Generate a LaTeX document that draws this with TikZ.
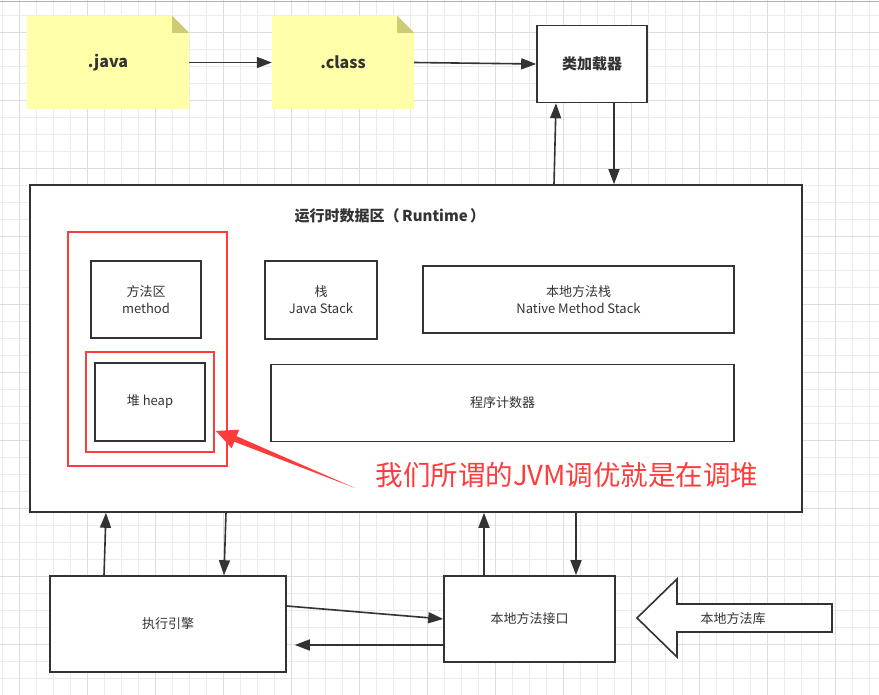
\documentclass[tikz,border=0pt]{standalone}
\usepackage{fontspec}
\setmainfont{Noto Sans CJK SC}
\usetikzlibrary{arrows.meta,calc,backgrounds}
\definecolor{ink}{HTML}{333333}
\definecolor{notefill}{HTML}{FFFFAA}
\definecolor{notefold}{HTML}{CCCC77}
\definecolor{alertred}{HTML}{FF3B3B}
\definecolor{gridminor}{HTML}{EBEBEB}
\definecolor{gridmajor}{HTML}{DDDDDD}

\begin{document}
\begin{tikzpicture}[x=1pt, y=-1pt,
      every node/.append style={text=ink, font=\fontsize{13}{17}\selectfont, inner sep=0pt},
      box/.style={draw=ink, line width=1.6pt, fill=white, align=center},
      zone/.style={draw=alertred, line width=1.8pt},
      arr/.style={draw=ink, line width=1.6pt, -{Triangle[length=15pt,width=11pt]}}]
    \tikzstyle{note} = [font=\bfseries\fontsize{16}{19}\selectfont]
    \tikzstyle{heading} = [font=\bfseries\fontsize{15}{18}\selectfont]
    \useasboundingbox (0,0) rectangle (879,695);
    \begin{scope}[on background layer]
      \fill[white] (0,0) rectangle (879,695);
      \foreach \k in {0,...,51} \draw[gridminor, line width=0.8pt] (2+17*\k,0) -- (2+17*\k,695);
      \foreach \k in {0,...,41} \draw[gridminor, line width=0.8pt] (0,-2+17*\k) -- (879,-2+17*\k);
      \foreach \k in {0,...,12} \draw[gridmajor, line width=0.8pt] (19+68*\k,0) -- (19+68*\k,695);
      \foreach \k in {0,...,9} \draw[gridmajor, line width=0.8pt] (0,32+68*\k) -- (879,32+68*\k);
    \end{scope}
    \draw[gray!60, line width=1pt] (0,1.5) -- (879,1.5);

    \node[note, minimum width=162pt, minimum height=93pt] (java) at (108,62.5) {.java};
    \node[note, minimum width=142pt, minimum height=93pt] (class) at (343,62.5) {.class};
    \begin{scope}[on background layer]
      \foreach \n in {java,class} {
        \fill[notefill] (\n.south west) |- ([xshift=-17pt]\n.north east) -- ([yshift=-17pt]\n.north east) -- (\n.south east) -- cycle;
        \fill[notefold] ([xshift=-17pt]\n.north east) -- ([xshift=-17pt,yshift=-17pt]\n.north east) -- ([yshift=-17pt]\n.north east) -- cycle;
      }
    \end{scope}
    \node[box, heading, minimum width=110pt, minimum height=77pt] (loader) at (592,64) {类加载器};

    \node[box, minimum width=772pt, minimum height=327pt] (rt) at (416,348.5) {};
    \node[heading] (rttitle) at (390,215.5) {运行时数据区（\,Runtime\,）};
    \node[box, minimum width=110pt, minimum height=77pt] (method) at (146,299.5) {方法区\\method};
    \node[box, minimum width=112pt, minimum height=78pt] (stack) at (321,300) {栈\\Java Stack};
    \node[box, minimum width=311pt, minimum height=67pt] (native) at (578.5,299.5) {本地方法栈\\Native Method Stack};
    \node[box, minimum width=110pt, minimum height=78pt] (heap) at (150,402) {堆 heap};
    \node[box, minimum width=463pt, minimum height=77pt] (pc) at (502.5,403) {程序计数器};
    \node[zone, minimum width=159pt, minimum height=234pt] (area) at (147.5,349) {};
    \node[zone, minimum width=128pt, minimum height=100pt] (heapzone) at (150,402) {};

    \node[text=alertred, font=\fontsize{27.5}{32}\selectfont] (tuning) at (567,475) {我们所谓的JVM调优就是在调堆};
    \coordinate (tail) at (355,488);
    \coordinate (tip) at (216,431);
    \coordinate (hb) at ($(tip)!21pt!(tail)$);
    \fill[alertred] (tail) -- ($(hb)!3pt!90:(tail)$) -- ($(hb)!10pt!90:(tail)$) -- (tip)
      -- ($(hb)!10pt!-90:(tail)$) -- ($(hb)!3pt!-90:(tail)$) -- cycle;

    \node[box, minimum width=236pt, minimum height=96pt] (exec) at (168,624) {执行引擎};
    \node[box, minimum width=171pt, minimum height=86pt] (jni) at (529.5,619) {本地方法接口};
    \draw[draw=ink, line width=1.6pt, fill=white] (832,604) -- (677,604) -- (677,579) -- (637,618)
      -- (677,657) -- (677,632) -- (832,632) -- cycle;
    \node (lib) at (733,619) {本地方法库};

    \draw[arr] (java) -- (class);
    \draw[arr] (class.east) -- (loader.west);
    \draw[arr] ([xshift=138pt]rt.north) -- ([xshift=-36pt]loader.south);
    \draw[arr] ([xshift=22pt]loader.south) -- ([xshift=198pt]rt.north);
    \draw[arr] ([xshift=-64pt]exec.north) -- ([xshift=-310pt]rt.south);
    \draw[arr] ([xshift=-190pt]rt.south) -- ([xshift=56pt]exec.north);
    \draw[arr] ([xshift=-45.5pt]jni.north) -- ([xshift=68pt]rt.south);
    \draw[arr] ([xshift=160pt]rt.south) -- ([xshift=46.5pt]jni.north);
    \draw[arr] ([yshift=18pt]exec.east) -- (jni.west);
    \draw[arr] ([yshift=-26pt]jni.west) -- ([xshift=8pt,yshift=-21pt]exec.east);
  \end{tikzpicture}
\end{document}
